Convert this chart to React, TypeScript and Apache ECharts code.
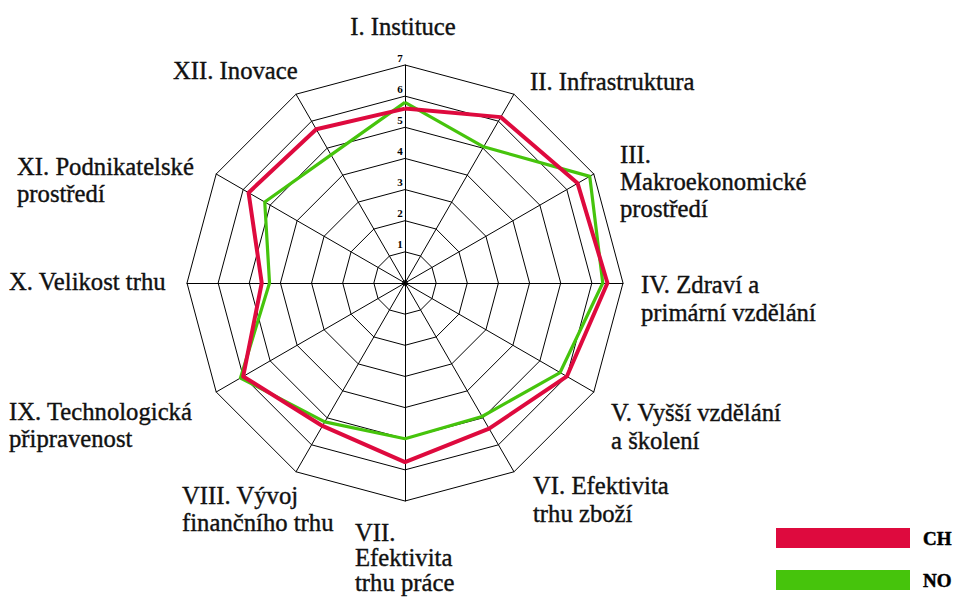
import React, { useEffect, useRef } from "react";
import * as echarts from "echarts";

const categories = [
  "I. Instituce",
  "II. Infrastruktura",
  "III.\nMakroekonomické\nprostředí",
  "IV. Zdraví a\nprimární vzdělání",
  "V. Vyšší vzdělání\na školení",
  "VI. Efektivita\ntrhu zboží",
  "VII.\nEfektivita\ntrhu práce",
  "VIII. Vývoj\nfinančního trhu",
  "IX. Technologická\npřipravenost",
  "X. Velikost trhu",
  "XI. Podnikatelské\nprostředí",
  "XII. Inovace",
];
const seriesNames = ["CH", "NO"];
const chValues = [5.6, 6.15, 6.4, 6.5, 6.0, 5.4, 5.75, 5.3, 6.0, 4.6, 5.8, 5.7];
const noValues = [5.8, 5.05, 6.85, 6.35, 5.75, 4.95, 5.0, 5.15, 6.1, 4.35, 5.2, 4.75];
const maxValue = 7;

const RED = "#de0a3e";
const GREEN = "#46c40c";
const FONT = "Liberation Serif";

// label layout: [x, firstLineCenterY, lineHeight, align]
const labelLayout: [number, number, number, string][] = [
  [403, 26, 27, "center"],
  [530, 81, 27, "left"],
  [620, 154, 27, "left"],
  [641, 284, 28, "left"],
  [611, 412, 28, "left"],
  [533, 485, 28, "left"],
  [355, 532, 25, "left"],
  [182, 495, 27, "left"],
  [9, 411, 27, "left"],
  [9, 281, 27, "left"],
  [17, 166, 27, "left"],
  [173, 70, 27, "left"],
];

const CENTER = [405, 283];
const RADIUS = 218;

// ECharts radar lays indicators out counter-clockwise; the reference runs clockwise.
const order = categories.map((_, i) => (i === 0 ? 0 : categories.length - i));
const reorder = (arr: number[]) => order.map((k) => arr[k]);

export default function App() {
  const ref = useRef<HTMLDivElement>(null);
  useEffect(() => {
    if (!ref.current) return;
    const chart = echarts.init(ref.current, null, { renderer: "svg" });
    const graphics = categories.map((name, i) => {
      const [x, y, lh, align] = labelLayout[i];
      return {
        type: "text",
        x,
        y: y - lh / 2,
        scaleX: 0.95,
        style: {
          text: name,
          fontFamily: FONT,
          fontSize: 26,
          lineHeight: lh,
          fill: "#111",
          stroke: "#111",
          lineWidth: 0.4,
          align,
          verticalAlign: "top",
        },
      };
    });
    chart.setOption({
      animation: false,
      backgroundColor: "#fff",
      legend: {
        data: seriesNames,
        orient: "vertical",
        left: 776,
        top: 528,
        padding: 0,
        itemWidth: 134,
        itemHeight: 20,
        itemGap: 22,
        icon: "rect",
        itemStyle: { borderWidth: 0 },
        selectedMode: false,
        textStyle: {
          fontFamily: FONT,
          fontWeight: "bold",
          fontSize: 19,
          color: "#000",
          padding: [0, 0, 0, 8],
          textBorderColor: "#000",
          textBorderWidth: 0.5,
        },
      },
      radar: {
        center: CENTER,
        radius: RADIUS,
        startAngle: 90,
        shape: "polygon",
        splitNumber: 7,
        indicator: order.map((k) => ({ name: categories[k], min: 0, max: maxValue })),
        axisName: { show: false },
        axisLine: { lineStyle: { color: "#000", width: 1 } },
        splitLine: { lineStyle: { color: "#000", width: 1 } },
        splitArea: { show: false },
        axisTick: { show: false },
        axisLabel: { show: false },
      },
      polar: { center: CENTER, radius: RADIUS },
      angleAxis: { type: "value", min: 0, max: 360, startAngle: 90, show: false },
      radiusAxis: {
        type: "value",
        min: 0,
        max: maxValue,
        interval: 1,
        axisLine: { show: false },
        axisTick: { show: false },
        splitLine: { show: false },
        axisLabel: {
          showMinLabel: false,
          margin: 5,
          align: "center",
          verticalAlign: "bottom",
          padding: [0, 0, 2, 0],
          fontFamily: FONT,
          fontWeight: "bold",
          fontSize: 11,
          color: "#000",
        },
      },
      graphic: graphics,
      series: [
        {
          type: "radar",
          name: "NO",
          symbol: "none",
          itemStyle: { color: GREEN },
          lineStyle: { color: GREEN, width: 3.2 },
          data: [{ name: "NO", value: reorder(noValues) }],
        },
        {
          type: "radar",
          name: "CH",
          symbol: "none",
          itemStyle: { color: RED },
          lineStyle: { color: RED, width: 4 },
          data: [{ name: "CH", value: reorder(chValues) }],
        },
        {
          type: "scatter",
          coordinateSystem: "polar",
          symbolSize: 6,
          itemStyle: { color: "#000" },
          silent: true,
          data: [[0, 0]],
        },
      ],
    });
    return () => chart.dispose();
  }, []);
  return (
    <div
      ref={ref}
      style={{ position: "absolute", left: 0, top: 0, width: 968, height: 599 }}
    />
  );
}
